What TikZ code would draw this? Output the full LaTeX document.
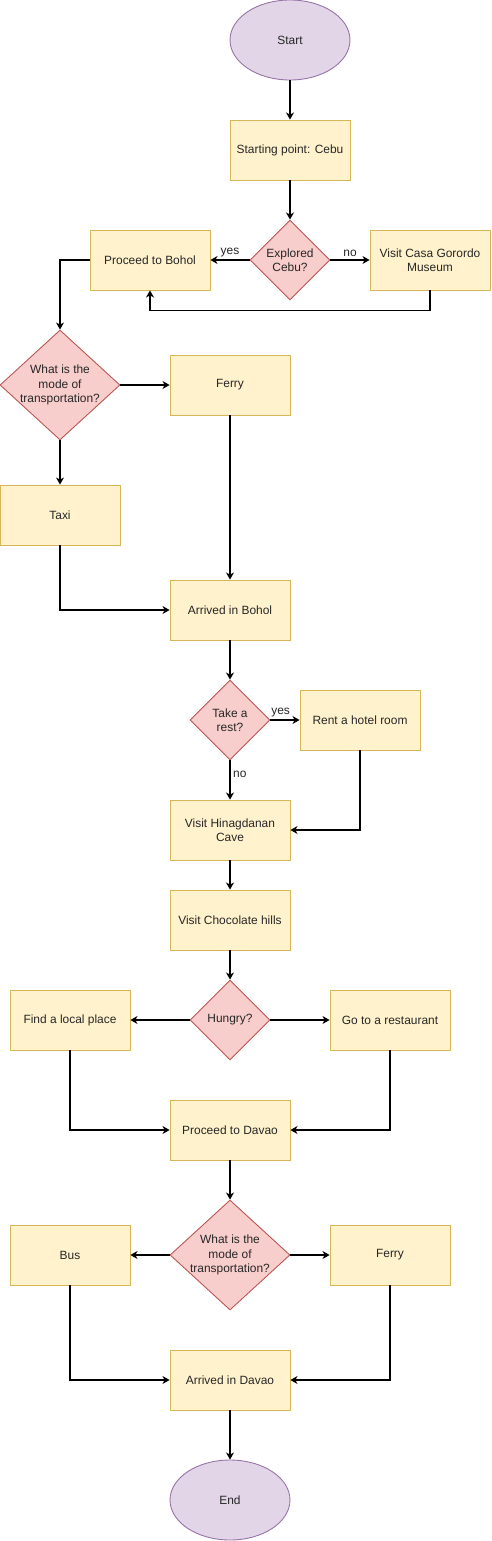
\documentclass[tikz,border=0pt]{standalone}
\usepackage{fontspec}
\setmainfont{Liberation Sans}
\usetikzlibrary{shapes.geometric,arrows.meta}
\definecolor{boxfill}{HTML}{FFF2CC}
\definecolor{boxline}{HTML}{D6B656}
\definecolor{decfill}{HTML}{F8CECC}
\definecolor{decline}{HTML}{B85450}
\definecolor{endfill}{HTML}{E1D5E7}
\definecolor{endline}{HTML}{9673A6}
\begin{document}
\begin{tikzpicture}[x=0.02cm, y=-0.02cm,
  every node/.style={font=\fontsize{6.8}{8.2}\selectfont, text=black!85},
  stepbox/.style={draw=boxline, fill=boxfill, line width=0.5pt, minimum width=2.4cm, minimum height=1.2cm, align=center, inner sep=1pt},
  decision/.style={diamond, draw=decline, fill=decfill, line width=0.5pt, align=center, inner sep=-4pt},
  terminal/.style={ellipse, draw=endline, fill=endfill, line width=0.5pt, minimum width=2.4cm, minimum height=1.6cm},
  arr/.style={-{Stealth[length=4pt, width=4.5pt, inset=1.2pt]}, line width=0.6pt},
  lbl/.style={inner sep=1.5pt, text=black!85}]
  \useasboundingbox (0,0) rectangle (491,1541);
  % Cebu
  \node[terminal] (start) at (290,40) {Start};
  \node[stepbox] (cebu) at (290,150) {Starting point: Cebu};
  \node[decision, minimum width=1.6cm, minimum height=1.6cm] (explored) at (290,260) {Explored\\Cebu?};
  \node[stepbox] (bohol) at (150,260) {Proceed to Bohol};
  \node[stepbox] (museum) at (430,260) {Visit Casa Gorordo\\Museum};
  % to Bohol
  \node[decision, minimum width=2.4cm, minimum height=2.2cm] (modeA) at (60,385) {What is the\\mode of\\transportation?};
  \node[stepbox] (ferryA) at (230,385) {Ferry};
  \node[stepbox] (taxi) at (60,515) {Taxi};
  \node[stepbox] (arrivedB) at (230,610) {Arrived in Bohol};
  % Bohol
  \node[decision, minimum width=1.6cm, minimum height=1.6cm] (rest) at (230,720) {Take a\\rest?};
  \node[stepbox] (hotel) at (360,720) {Rent a hotel room};
  \node[stepbox] (cave) at (230,830) {Visit Hinagdanan\\Cave};
  \node[stepbox] (hills) at (230,920) {Visit Chocolate hills};
  \node[decision, minimum width=1.6cm, minimum height=1.6cm] (hungry) at (230,1020) {Hungry?};
  \node[stepbox] (local) at (70,1020) {Find a local place};
  \node[stepbox] (resto) at (390,1020) {Go to a restaurant};
  % to Davao
  \node[stepbox] (davao) at (230,1130) {Proceed to Davao};
  \node[decision, minimum width=2.4cm, minimum height=2.2cm] (modeB) at (230,1255) {What is the\\mode of\\transportation?};
  \node[stepbox] (bus) at (70,1255) {Bus};
  \node[stepbox] (ferryB) at (390,1255) {Ferry};
  \node[stepbox] (arrivedD) at (230,1380) {Arrived in Davao};
  \node[terminal] (end) at (230,1500) {End};

  \draw[arr] (start) -- (cebu);
  \draw[arr] (cebu) -- (explored);
  \draw[arr] (explored) -- node[lbl, above] {yes} (bohol);
  \draw[arr] (explored) -- node[lbl, above] {no} (museum);
  \draw[arr] (museum.south) -- ++(0,20) -| (bohol.south);
  \draw[arr] (bohol.west) -| (modeA.north);
  \draw[arr] (modeA) -- (ferryA);
  \draw[arr] (modeA) -- (taxi);
  \draw[arr] (taxi.south) |- (arrivedB.west);
  \draw[arr] (ferryA) -- (arrivedB);
  \draw[arr] (arrivedB) -- (rest);
  \draw[arr] (rest) -- node[lbl, above, pos=0.35] {yes} (hotel);
  \draw[arr] (rest) -- node[lbl, right, pos=0.35] {no} (cave);
  \draw[arr] (hotel.south) |- (cave.east);
  \draw[arr] (cave) -- (hills);
  \draw[arr] (hills) -- (hungry);
  \draw[arr] (hungry) -- (local);
  \draw[arr] (hungry) -- (resto);
  \draw[arr] (local.south) |- (davao.west);
  \draw[arr] (resto.south) |- (davao.east);
  \draw[arr] (davao) -- (modeB);
  \draw[arr] (modeB) -- (bus);
  \draw[arr] (modeB) -- (ferryB);
  \draw[arr] (bus.south) |- (arrivedD.west);
  \draw[arr] (ferryB.south) |- (arrivedD.east);
  \draw[arr] (arrivedD) -- (end);
\end{tikzpicture}
\end{document}
